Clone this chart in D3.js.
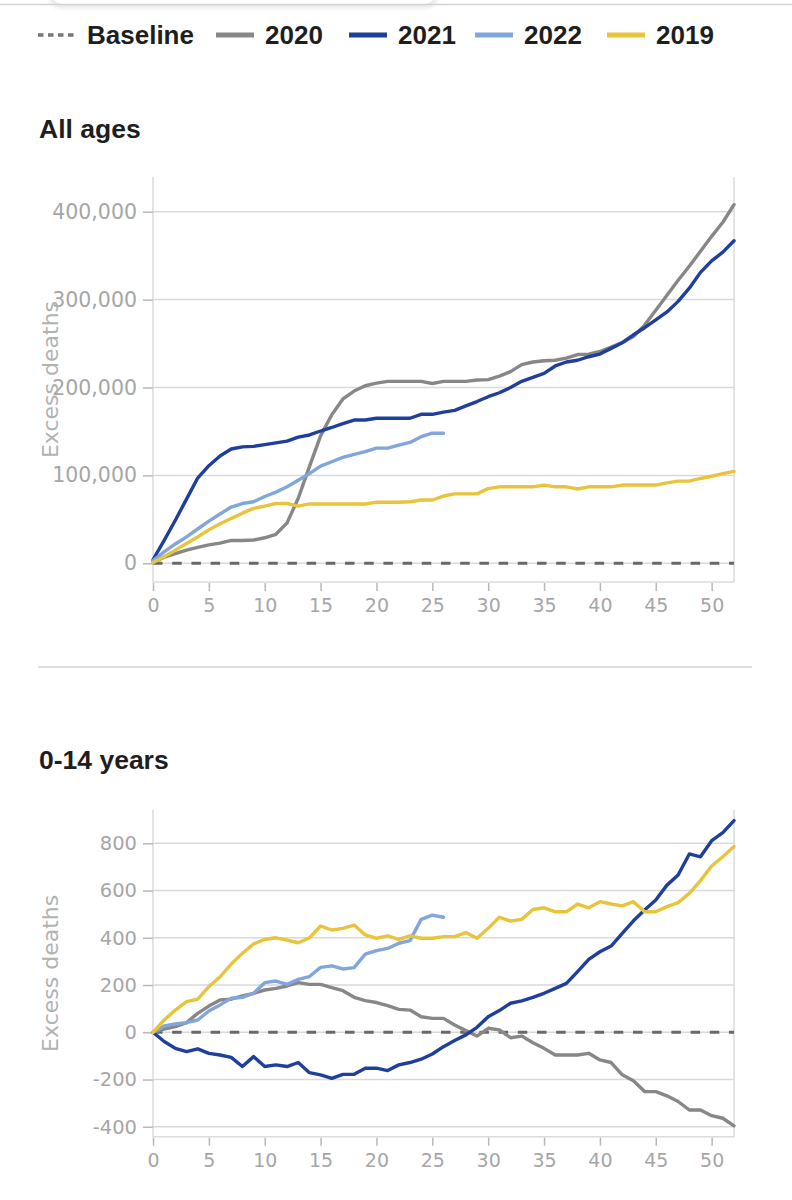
<!DOCTYPE html>
<html>
<head>
<meta charset="utf-8">
<script src="https://cdn.jsdelivr.net/npm/d3@7.9.0/dist/d3.min.js"></script>
<style>
  body { margin: 0; background: #fff; }
  svg { display: block; }
</style>
</head>
<body>
<svg id="chart" width="792" height="1200"></svg>
<script>
// ---- data (cumulative excess deaths by week) ----
const seriesNames = ['2020', '2021', '2022', '2019'];
const seriesColors = ['#878787', '#1f3f9c', '#80a6dc', '#e7c43c'];

const allAges2020 = [1000, 7000, 11000, 15000, 18000, 21000, 23000, 26000, 26000, 26500,
  29000, 33000, 46000, 74000, 110000, 145000, 169000, 187000, 196000, 202000,
  205000, 207000, 207000, 207000, 207000, 204500, 207000, 207000, 207000, 208500,
  209000, 213000, 218000, 226000, 229000, 230500, 231000, 233500, 237500, 238000,
  241000, 246000, 251000, 258000, 271000, 288000, 305000, 322000, 338000, 355000,
  372000, 388000, 408000];
const allAges2021 = [4000, 26000, 49000, 73000, 97000, 111000, 122000, 130000, 132500, 133000,
  135000, 137000, 139000, 143500, 146000, 150500, 154500, 159000, 163000, 163000,
  165000, 165000, 165000, 165000, 169500, 169500, 172000, 174000, 179000, 184000,
  189500, 194000, 200000, 207000, 211500, 216000, 224500, 229000, 231000, 235000,
  238000, 244500, 251000, 260000, 268000, 277000, 286000, 298000, 313000, 331000,
  344000, 354000, 367000];
const allAges2022 = [3000, 13000, 22000, 30000, 39000, 48000, 56000, 64000, 68000, 70000,
  76000, 81000, 87000, 94500, 102000, 110500, 115500, 120500, 124000, 127000,
  131000, 131000, 134500, 137500, 144000, 148000, 148000];
const allAges2019 = [1000, 7500, 15000, 22500, 30000, 38000, 45000, 51000, 57000, 62500,
  65000, 68000, 68000, 65000, 67500, 67500, 67500, 67500, 67500, 67500,
  69500, 69500, 69500, 70000, 72000, 72000, 76500, 79000, 79000, 79000,
  85000, 87000, 87000, 87000, 87000, 89000, 87000, 87000, 84500, 87000,
  87000, 87000, 89000, 89000, 89000, 89000, 91500, 93500, 93500, 96500,
  99000, 102000, 104500];

const kids2020 = [0, 13, 24, 41, 80, 111, 137, 140, 154, 165,
  179, 186, 196, 210, 203, 203, 189, 176, 148, 134,
  126, 113, 97, 94, 66, 59, 59, 31, 7, -16,
  17, 10, -23, -16, -44, -68, -96, -96, -96, -89,
  -117, -128, -180, -205, -251, -251, -269, -293, -329, -329,
  -353, -364, -396];
const kids2021 = [0, -39, -68, -82, -70, -89, -96, -106, -145, -103,
  -145, -138, -145, -128, -171, -180, -195, -178, -178, -152,
  -152, -162, -138, -128, -114, -92, -61, -35, -11, 21,
  66, 92, 123, 133, 148, 165, 186, 207, 257, 309,
  341, 365, 419, 472, 518, 560, 623, 666, 755, 743,
  811, 845, 896];
const kids2022 = [0, 27, 35, 41, 52, 90, 116, 144, 148, 165,
  210, 217, 203, 224, 236, 275, 281, 268, 274, 331,
  346, 355, 377, 388, 478, 496, 487];
const kids2019 = [0, 52, 94, 130, 140, 193, 235, 289, 334, 374,
  393, 400, 390, 379, 400, 450, 433, 440, 454, 412,
  398, 408, 393, 408, 398, 398, 405, 405, 422, 398,
  440, 487, 471, 478, 520, 527, 510, 510, 543, 527,
  553, 543, 535, 553, 510, 510, 532, 549, 588, 642,
  704, 743, 786];

const weekTicks = [0, 5, 10, 15, 20, 25, 30, 35, 40, 45, 50];
const allAgesTicks = [0, 100000, 200000, 300000, 400000];
const kidsTicks = [-400, -200, 0, 200, 400, 600, 800];

const svg = d3.select('#chart');

// faint card edge at the very top
const defs = svg.append('defs');
defs.append('filter').attr('id', 'soft')
  .append('feGaussianBlur').attr('stdDeviation', 2.5);
svg.append('rect')
  .attr('x', 50).attr('y', -14).attr('width', 387).attr('height', 22).attr('rx', 12)
  .attr('fill', '#e6e6e6').attr('filter', 'url(#soft)');
svg.append('rect')
  .attr('x', 52).attr('y', -16).attr('width', 383).attr('height', 20).attr('rx', 10)
  .attr('fill', '#fff');
svg.append('line')
  .attr('x1', 0).attr('x2', 792).attr('y1', 4.5).attr('y2', 4.5)
  .attr('stroke', '#d2d2d2').attr('stroke-width', 1.5);

// ===== Legend =====
const legendItems = [{ label: 'Baseline', color: '#777', dashed: true }]
  .concat(seriesNames.map((n, i) => ({ label: n, color: seriesColors[i] })));
const legendX = [38, 216, 349, 475, 607];

const legend = svg.append('g').attr('class', 'legend');
legend.selectAll('g')
  .data(legendItems)
  .join('g')
  .attr('transform', (d, i) => `translate(${legendX[i]},35)`)
  .each(function (d) {
    const item = d3.select(this);
    if (d.dashed) {
      item.append('line').attr('x1', 0).attr('x2', 38)
        .attr('stroke', d.color).attr('stroke-width', 3.5)
        .attr('stroke-dasharray', '5.5,4.5');
    } else {
      item.append('rect').attr('x', 0).attr('y', -2.5).attr('width', 38).attr('height', 5)
        .attr('fill', d.color);
    }
    item.append('text')
      .attr('x', 49).attr('y', 9)
      .attr('fill', '#1e1e1e')
      .style('font', 'bold 26px "Liberation Sans", Arial, sans-serif')
      .text(d.label);
  });

// ===== Panels =====
const x = d3.scaleLinear().domain([0, 52]).range([153, 734]);
const numFmt = d => d3.format(',')(d).replace('\u2212', '-');

function drawPanel(cfg) {
  const g = svg.append('g');
  const y = d3.scaleLinear().domain(cfg.domain).range([cfg.bottom, cfg.top]);

  g.append('text')
    .attr('x', 39).attr('y', cfg.titleY)
    .attr('fill', '#1e1e1e')
    .style('font', 'bold 26.5px "Liberation Sans", Arial, sans-serif')
    .text(cfg.title);

  // gridlines
  g.selectAll('line.grid')
    .data(cfg.ticks)
    .join('line')
    .attr('class', 'grid')
    .attr('x1', x(0)).attr('x2', x(52))
    .attr('y1', d => y(d)).attr('y2', d => y(d))
    .attr('stroke', '#d9d9d9').attr('stroke-width', 1.5);

  // frame: left, bottom, right
  g.append('path')
    .attr('d', `M${x(0)},${cfg.top}V${cfg.bottom}H${x(52)}V${cfg.top}`)
    .attr('fill', 'none').attr('stroke', '#dcdcdc').attr('stroke-width', 1.5);

  const yAxis = d3.axisLeft(y)
    .tickValues(cfg.ticks).tickSize(10).tickSizeOuter(0).tickPadding(6)
    .tickFormat(numFmt);
  g.append('g')
    .attr('transform', `translate(${x(0)},0)`)
    .call(yAxis)
    .call(a => a.select('.domain').remove())
    .call(a => a.selectAll('.tick line').attr('stroke', '#b8b8b8').attr('stroke-width', 1.5))
    .call(a => a.selectAll('.tick text')
      .attr('fill', '#a6a6a6')
      .style('font', `${cfg.yFont}px "DejaVu Sans", sans-serif`));

  const xAxis = d3.axisBottom(x)
    .tickValues(weekTicks).tickSize(8).tickSizeOuter(0).tickPadding(8);
  g.append('g')
    .attr('transform', `translate(0,${cfg.bottom + 1})`)
    .call(xAxis)
    .call(a => a.select('.domain').remove())
    .call(a => a.selectAll('.tick line').attr('stroke', '#b8b8b8').attr('stroke-width', 1.5))
    .call(a => a.selectAll('.tick text')
      .attr('fill', '#a6a6a6')
      .style('font', '19px "DejaVu Sans", sans-serif'));

  // dashed baseline at zero
  g.append('line')
    .attr('x1', x(0)).attr('x2', x(52))
    .attr('y1', y(0)).attr('y2', y(0))
    .attr('stroke', '#686868').attr('stroke-width', 3)
    .attr('stroke-dasharray', '9.5,9.7');

  const line = d3.line()
    .x((d, i) => x(i))
    .y(d => y(d));

  g.selectAll('path.series')
    .data(cfg.series)
    .join('path')
    .attr('class', 'series')
    .attr('d', d => line(d))
    .attr('fill', 'none')
    .attr('stroke', (d, i) => seriesColors[i])
    .attr('stroke-width', 3.4)
    .attr('stroke-linejoin', 'round')
    .attr('stroke-linecap', 'round');

  // y label
  g.append('text')
    .attr('transform', `translate(58,${(cfg.top + cfg.bottom) / 2}) rotate(-90)`)
    .attr('text-anchor', 'middle')
    .attr('fill', '#b2b2b2')
    .style('font', '22px "DejaVu Sans", sans-serif')
    .text('Excess deaths');
}

drawPanel({
  title: 'All ages', titleY: 138,
  top: 177, bottom: 582,
  domain: [-21300, 439500],
  ticks: allAgesTicks, yFont: 20.5,
  series: [allAges2020, allAges2021, allAges2022, allAges2019]
});

// separator
svg.append('line')
  .attr('x1', 38).attr('x2', 752).attr('y1', 667).attr('y2', 667)
  .attr('stroke', '#dedede').attr('stroke-width', 2);

drawPanel({
  title: '0-14 years', titleY: 769,
  top: 810, bottom: 1136.7,
  domain: [-442, 941],
  ticks: kidsTicks, yFont: 19.5,
  series: [kids2020, kids2021, kids2022, kids2019]
});
</script>
</body>
</html>
